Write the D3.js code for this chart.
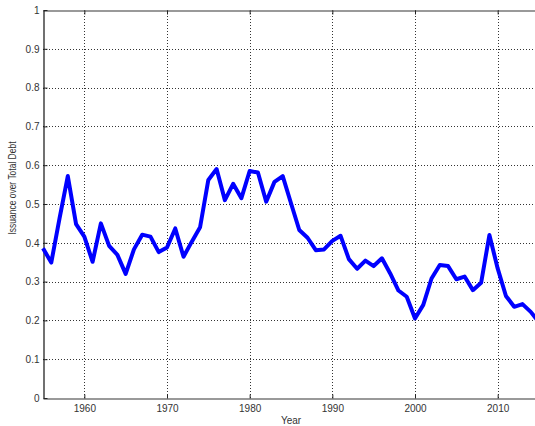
<!DOCTYPE html>
<html>
<head>
<meta charset="utf-8">
<script src="https://cdn.jsdelivr.net/npm/d3@7"></script>
<style>
  html, body { margin: 0; padding: 0; background: #fff; overflow: hidden; }
  svg { display: block; font-family: "Liberation Sans", Arial, sans-serif; }
</style>
</head>
<body>
<div id="chart"></div>
<script>
// Issuance as a share of total debt, annual, 1955–2015
const years = d3.range(1955, 2016);
const ratio = [
  0.386, 0.349, 0.463, 0.572, 0.448, 0.416, 0.351, 0.450, 0.392, 0.369,
  0.320, 0.383, 0.421, 0.416, 0.376, 0.388, 0.437, 0.364, 0.403, 0.440,
  0.562, 0.590, 0.510, 0.552, 0.515, 0.585, 0.581, 0.506, 0.557, 0.572,
  0.502, 0.433, 0.413, 0.381, 0.383, 0.405, 0.418, 0.358, 0.333, 0.354,
  0.340, 0.360, 0.321, 0.277, 0.261, 0.205, 0.240, 0.308, 0.343, 0.340,
  0.306, 0.313, 0.278, 0.297, 0.420, 0.334, 0.263, 0.235, 0.242, 0.222,
  0.195
];
const xTicks = [1960, 1970, 1980, 1990, 2000, 2010];
const yTicks = [0, 0.1, 0.2, 0.3, 0.4, 0.5, 0.6, 0.7, 0.8, 0.9, 1];
const xTitle = "Year";
const yTitle = "Issuance over Total Debt";

const W = 535, H = 426;
const plotLeft = 43, plotTop = 10, plotRight = 539, plotBottom = 398;

const svg = d3.select("#chart").append("svg")
  .attr("width", W).attr("height", H);

const x = d3.scaleLinear().domain([1955, 2015]).range([plotLeft, plotRight]);
const y = d3.scaleLinear().domain([0, 1]).range([plotBottom, plotTop]);

// grid
const grid = svg.append("g");
grid.selectAll("line.gx").data(xTicks).join("line")
  .attr("x1", d => Math.round(x(d)) + 0.5).attr("x2", d => Math.round(x(d)) + 0.5)
  .attr("y1", plotTop).attr("y2", plotBottom)
  .attr("stroke", "#333").attr("stroke-width", 1)
  .attr("stroke-dasharray", "1,2");
grid.selectAll("line.gy").data(yTicks.filter(d => d > 0 && d < 1)).join("line")
  .attr("x1", plotLeft).attr("x2", W)
  .attr("y1", d => Math.round(y(d)) + 0.5).attr("y2", d => Math.round(y(d)) + 0.5)
  .attr("stroke", "#333").attr("stroke-width", 1)
  .attr("stroke-dasharray", "1,2");

// axes
const axB = svg.append("g")
  .attr("transform", `translate(0,${plotBottom + 0.5})`)
  .call(d3.axisBottom(x).tickValues(xTicks).tickFormat(d3.format("d"))
    .tickSizeInner(-4).tickSizeOuter(0).tickPadding(6));
axB.select(".domain").attr("stroke", "#777").attr("stroke-width", 1.5);

const axT = svg.append("g")
  .attr("transform", `translate(0,${plotTop + 0.5})`)
  .call(d3.axisTop(x).tickValues(xTicks).tickFormat("")
    .tickSizeInner(-4).tickSizeOuter(0));
axT.select(".domain").attr("stroke", "#777").attr("stroke-width", 1.5);

const axL = svg.append("g")
  .attr("transform", `translate(${plotLeft + 0.5},0)`)
  .call(d3.axisLeft(y).tickValues(yTicks).tickFormat(d => d === 0 ? "0" : d === 1 ? "1" : d3.format(".1f")(d))
    .tickSizeInner(-4).tickSizeOuter(0).tickPadding(4));
axL.select(".domain").attr("stroke", "#111").attr("stroke-width", 1.2);

svg.selectAll(".tick line").attr("stroke", "#222");
svg.selectAll(".tick text")
  .attr("fill", "#333").style("font-size", "10px")
  .style("font-family", "'Liberation Sans', Arial, sans-serif");

// series
const line = d3.line()
  .x((d, i) => x(years[i]))
  .y(d => y(d));
svg.append("path")
  .datum(ratio)
  .attr("d", line)
  .attr("fill", "none")
  .attr("stroke", "#0000ff")
  .attr("stroke-width", 4)
  .attr("stroke-linejoin", "round");

// titles
svg.append("text")
  .attr("x", (plotLeft + plotRight) / 2).attr("y", 424)
  .attr("text-anchor", "middle")
  .attr("fill", "#333").style("font-size", "10px")
  .text(xTitle);
svg.append("text")
  .attr("transform", `translate(16,188) rotate(-90)`)
  .attr("text-anchor", "middle")
  .attr("fill", "#333").style("font-size", "10px")
  .attr("textLength", 93).attr("lengthAdjust", "spacingAndGlyphs")
  .text(yTitle);
</script>
</body>
</html>
